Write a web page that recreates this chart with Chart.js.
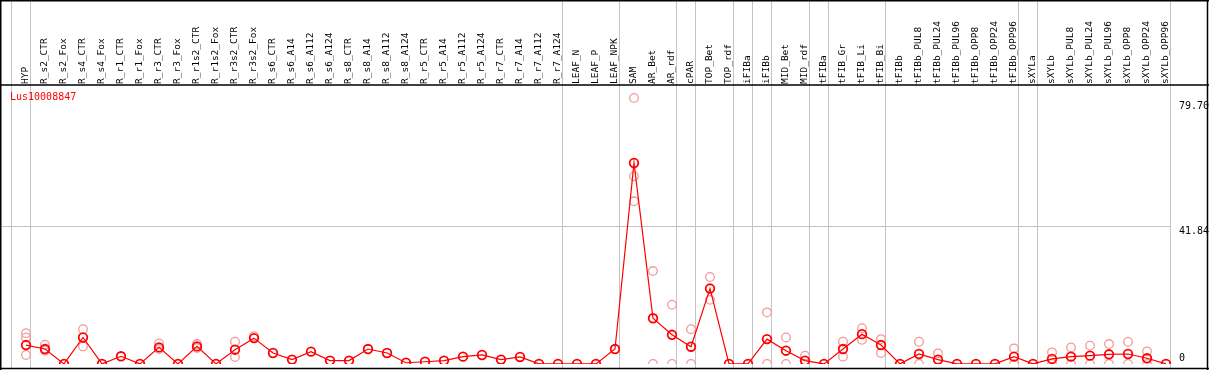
<!DOCTYPE html>
<html>
<head>
<meta charset="utf-8">
<script src="https://cdn.jsdelivr.net/npm/chart.js@4.4.1/dist/chart.umd.min.js"></script>
<style>
html,body{margin:0;padding:0;background:#fff;}
#wrap{position:relative;width:1209px;height:370px;}
</style>
</head>
<body>
<div id="wrap"><canvas id="c" width="1209" height="370"></canvas></div>
<script>
const geneName = 'Lus10008847';
const categories = ['HYP','R_s2_CTR','R_s2_Fox','R_s4_CTR','R_s4_Fox','R_r1_CTR','R_r1_Fox','R_r3_CTR','R_r3_Fox','R_r1s2_CTR','R_r1s2_Fox','R_r3s2_CTR','R_r3s2_Fox','R_s6_CTR','R_s6_A14','R_s6_A112','R_s6_A124','R_s8_CTR','R_s8_A14','R_s8_A112','R_s8_A124','R_r5_CTR','R_r5_A14','R_r5_A112','R_r5_A124','R_r7_CTR','R_r7_A14','R_r7_A112','R_r7_A124','LEAF_N','LEAF_P','LEAF_NPK','SAM','AR_Bet','AR_rdf','cPAR','TOP_Bet','TOP_rdf','iFIBa','iFIBb','MID_Bet','MID_rdf','tFIBa','tFIB_Gr','tFIB_Li','tFIB_Bi','tFIBb','tFIBb_PUL8','tFIBb_PUL24','tFIBb_PUL96','tFIBb_OPP8','tFIBb_OPP24','tFIBb_OPP96','sXYLa','sXYLb','sXYLb_PUL8','sXYLb_PUL24','sXYLb_PUL96','sXYLb_OPP8','sXYLb_OPP24','sXYLb_OPP96'];
const meanValues = [5.7,4.5,0,8.0,0,2.3,0,5.0,0,5.3,0,4.3,7.8,3.3,1.3,3.7,1.0,1.0,4.5,3.3,0.35,0.65,1.0,2.2,2.7,1.3,2.1,0,0,0,0,4.5,60.8,13.8,8.8,5.2,22.8,0,0,7.5,4.0,1.0,0,4.5,9.0,5.7,0,3.0,1.3,0,0,0,2.2,0,1.5,2.2,2.5,2.9,3.0,1.7,0];
const replicateA = [9.3,5.8,null,10.5,null,null,null,6.2,null,6.0,null,6.7,8.4,null,null,null,null,null,null,null,null,null,null,null,null,null,null,null,null,null,null,null,80.5,28.1,17.9,10.5,26.3,null,null,15.6,8.0,2.5,null,6.7,10.8,7.5,null,6.7,3.2,null,null,null,4.7,null,3.5,5.0,5.5,6.0,6.7,3.8,null];
const replicateB = [8.0,4.0,null,5.3,null,null,null,4.5,null,4.8,null,2.1,null,null,null,null,null,null,null,null,null,null,null,null,null,null,null,null,null,null,null,null,56.8,0,0,0,19.4,null,null,0,0,0,null,2.2,7.3,3.3,null,0,null,null,null,null,0,null,0,0,0,0,0,0,null];
const replicateC = [2.7,null,null,null,null,null,null,null,null,null,null,null,null,null,null,null,null,null,null,null,null,null,null,null,null,null,null,null,null,null,null,null,49.2,null,null,null,null,null,null,null,null,null,null,null,null,null,null,null,null,null,null,null,null,null,null,null,null,null,null,null,null];
const yTickValues = [0, 41.84, 79.70];
const yTickLabels = ['0', '41.84', '79.70'];
const groupEndsAfter = [-1, 0, 28, 31, 34, 35, 37, 38, 39, 41, 42, 45, 52, 53, 60];
const Y_MAX = 84.4;

const replicatePoints = [];
[replicateA, replicateB, replicateC].forEach(arr => {
  arr.forEach((v, i) => { if (v !== null) replicatePoints.push({x: categories[i], y: v}); });
});

const decor = {
  id: 'decor',
  beforeDatasetsDraw(chart) {
    const ctx = chart.ctx;
    const xs = chart.scales.x, ys = chart.scales.y;
    const step = xs.getPixelForValue(1) - xs.getPixelForValue(0);
    ctx.save();
    ctx.strokeStyle = '#c4c4c4';
    ctx.lineWidth = 1;
    const gy = Math.round(ys.getPixelForValue(41.84)) + 0.5;
    ctx.beginPath(); ctx.moveTo(1, gy); ctx.lineTo(1171, gy); ctx.stroke();
    groupEndsAfter.forEach(i => {
      const x = Math.round(xs.getPixelForValue(0) + step * i + step * 0.235) + 0.5;
      ctx.beginPath(); ctx.moveTo(x, 0); ctx.lineTo(x, 369); ctx.stroke();
    });
    ctx.restore();
  },
  afterDraw(chart) {
    const ctx = chart.ctx;
    const ys = chart.scales.y;
    ctx.save();
    ctx.strokeStyle = '#000';
    ctx.lineWidth = 1.5;
    ctx.beginPath();
    ctx.moveTo(0.75, 0); ctx.lineTo(0.75, 370);
    ctx.moveTo(0, 0.75); ctx.lineTo(1209, 0.75);
    ctx.moveTo(1207.5, 0); ctx.lineTo(1207.5, 370);
    ctx.moveTo(0, 85); ctx.lineTo(1209, 85);
    ctx.moveTo(0, 368.6); ctx.lineTo(1209, 368.6);
    ctx.stroke();
    ctx.fillStyle = '#000';
    ctx.font = '10px "DejaVu Sans Mono"';
    ctx.textAlign = 'left';
    yTickValues.forEach((v, k) => {
      const py = ys.getPixelForValue(v);
      if (v === 0) { ctx.textBaseline = 'alphabetic'; ctx.fillText(yTickLabels[k], 1179, py - 2.5); }
      else { ctx.textBaseline = 'alphabetic'; ctx.fillText(yTickLabels[k], 1179, py + 8.5); }
    });
    ctx.fillStyle = '#ff0000';
    ctx.textBaseline = 'alphabetic';
    ctx.fillText(geneName, 10, 100);
    ctx.restore();
  }
};

new Chart(document.getElementById('c'), {
  type: 'line',
  data: {
    labels: categories,
    datasets: [
      {
        label: 'mean',
        data: meanValues,
        borderColor: '#ff0000',
        borderWidth: 1.2,
        pointRadius: 4.3,
        pointBorderWidth: 1.8,
        pointBorderColor: '#ff0000',
        pointBackgroundColor: 'rgba(0,0,0,0)',
        tension: 0,
        order: 0
      },
      {
        label: 'replicates',
        data: replicatePoints,
        showLine: false,
        pointRadius: 4.3,
        pointBorderWidth: 1.3,
        pointBorderColor: '#f29a9a',
        pointBackgroundColor: 'rgba(0,0,0,0)',
        order: 1
      }
    ]
  },
  options: {
    responsive: false,
    animation: false,
    devicePixelRatio: 1,
    layout: { padding: { left: 26, right: 0, top: 0, bottom: 1.4 } },
    plugins: { legend: { display: false }, tooltip: { enabled: false }, title: { display: false } },
    scales: {
      x: {
        type: 'category',
        position: 'top',
        offset: false,
        grid: { display: false },
        border: { display: false },
        ticks: {
          autoSkip: false,
          minRotation: 90,
          maxRotation: 90,
          padding: -7,
          labelOffset: 10.5,
          color: '#000',
          font: { family: 'DejaVu Sans Mono', size: 9.5 }
        },
        afterFit(scale) { scale.height = 85; }
      },
      y: {
        position: 'right',
        min: 0,
        max: Y_MAX,
        grid: { display: false },
        border: { display: false },
        ticks: { display: false },
        afterBuildTicks(scale) { scale.ticks = yTickValues.map(v => ({ value: v })); },
        afterFit(scale) { scale.width = 43; }
      }
    }
  },
  plugins: [decor]
});
</script>
</body>
</html>
